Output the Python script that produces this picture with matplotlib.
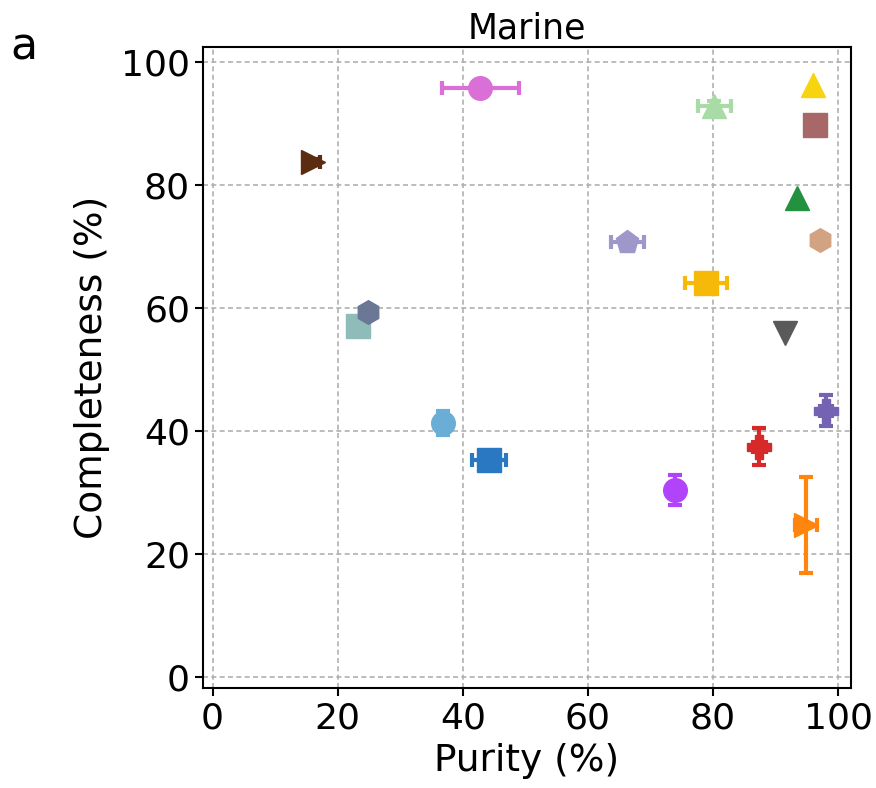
import numpy as np
import matplotlib
matplotlib.use("Agg")
import matplotlib.pyplot as plt

# purity / completeness per tool
purity = [42.8, 16.1, 23.3, 24.9, 36.9, 44.2, 66.3, 80.2, 96.0, 96.3,
          93.5, 97.1, 78.9, 91.5, 98.1, 87.4, 74.0, 94.9]
completeness = [95.8, 83.7, 57.1, 59.3, 41.3, 35.3, 70.7, 92.8, 96.3, 89.8,
                77.9, 71.1, 64.1, 55.9, 43.3, 37.4, 30.4, 24.7]
purity_err = [6.2, 1.0, 0.0, 0.0, 1.0, 2.7, 2.6, 2.6, 0.0, 0.0,
              0.0, 0.0, 3.4, 0.0, 1.0, 1.0, 0.5, 1.8]
compl_err = [0.3, 0.5, 0.0, 0.0, 2.0, 0.5, 0.8, 0.8, 0.0, 0.0,
             0.0, 0.0, 0.8, 0.0, 2.5, 3.0, 2.5, 7.8]
markers = ['o', '>', 's', 'h', 'o', 's', 'p', '^', '^', 's',
           '^', 'h', 's', 'v', 'P', 'P', 'o', '>']
colors = ['#da6fd8', '#5b2c12', '#8fbcb9', '#6a7795', '#6aaed8', '#2b78c2',
          '#9d98c9', '#a8dba6', '#f6d510', '#a86868', '#23913f', '#d1a382',
          '#f6b90a', '#5a5a5a', '#7462b3', '#d62a2a', '#b144fa', '#ff850e']

plt.rcParams['font.family'] = 'DejaVu Sans'
fig, ax = plt.subplots(figsize=(8.76, 7.88), dpi=100)
fig.subplots_adjust(left=0.232, right=0.971, top=0.94, bottom=0.127)

for i in range(len(purity)):
    ax.errorbar(purity[i], completeness[i],
                xerr=purity_err[i] if purity_err[i] > 0 else None,
                yerr=compl_err[i] if compl_err[i] > 0 else None,
                marker=markers[i], color=colors[i], markersize=17,
                elinewidth=3, capsize=5, capthick=3, linestyle='None')

ax.set_xlim(-1.5, 102)
ax.set_ylim(-1.8, 102.4)
ax.set_xticks([0, 20, 40, 60, 80, 100])
ax.set_yticks([0, 20, 40, 60, 80, 100])
ax.tick_params(labelsize=26, width=1.5, length=6)
ax.grid(True, linestyle=(0, (3, 2)), color='#b0b0b0', linewidth=1.2)
for s in ax.spines.values():
    s.set_linewidth(1.5)
ax.set_xlabel('Purity (%)', fontsize=27, labelpad=6)
ax.set_ylabel('Completeness (%)', fontsize=27, labelpad=8)
ax.set_title('Marine', fontsize=25, pad=6)
fig.text(0.012, 0.925, 'a', fontsize=32)

plt.savefig('out.png', dpi=100)
